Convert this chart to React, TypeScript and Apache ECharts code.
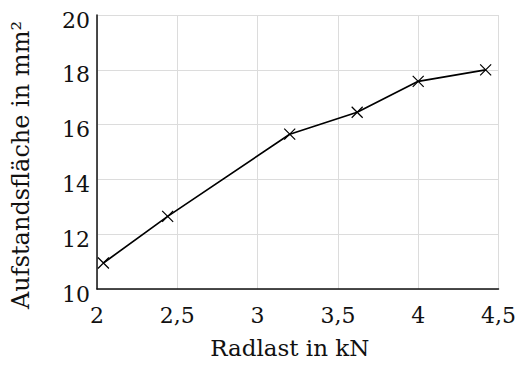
import React, { useEffect, useRef } from "react";
import * as echarts from "echarts";

const radlast = [2.04, 2.44, 3.2, 3.62, 4.0, 4.42];
const flaeche = [10.95, 12.65, 15.65, 16.45, 17.58, 18.0];
const xTitle = "Radlast in kN";
const yTitle = "Aufstandsfläche in mm²";

const FONT = "DejaVu Serif";

export default function App() {
  const ref = useRef<HTMLDivElement>(null);
  useEffect(() => {
    if (!ref.current) return;
    const chart = echarts.init(ref.current, undefined, { renderer: "svg" });
    chart.setOption({
      animation: false,
      backgroundColor: "#ffffff",
      textStyle: { fontFamily: FONT },
      grid: { left: 97, right: 16, top: 15, bottom: 76 },
      xAxis: {
        type: "value",
        min: 2,
        max: 4.5,
        interval: 0.5,
        name: xTitle,
        nameLocation: "middle",
        nameGap: 47,
        nameTextStyle: { fontFamily: FONT, fontSize: 23, color: "#111", padding: [0, 16, 0, 0] },
        axisLine: { show: true, lineStyle: { color: "#111", width: 1.5 } },
        axisTick: { show: false },
        splitLine: { show: true, lineStyle: { color: "#dcdcdc", width: 1 } },
        axisLabel: {
          fontFamily: FONT,
          fontSize: 22,
          color: "#111",
          margin: 15,
          formatter: (v: number) => String(v).replace(".", ","),
        },
      },
      yAxis: {
        type: "value",
        min: 10,
        max: 20,
        interval: 2,
        name: yTitle,
        nameLocation: "middle",
        nameGap: 64,
        nameTextStyle: { fontFamily: FONT, fontSize: 24, color: "#111", padding: [0, 26, 0, 0] },
        axisLine: { show: true, lineStyle: { color: "#111", width: 1.5 } },
        axisTick: { show: false },
        splitLine: { show: true, lineStyle: { color: "#dcdcdc", width: 1 } },
        axisLabel: {
          fontFamily: FONT,
          fontSize: 22,
          color: "#111",
          margin: 7,
          verticalAlign: "top",
          lineHeight: 10,
        },
      },
      series: [
        {
          type: "line",
          data: radlast.map((x, i) => [x, flaeche[i]]),
          lineStyle: { color: "#000", width: 1.7 },
          symbol: "path://M0,0L10,10M10,0L0,10",
          symbolSize: 11,
          itemStyle: { color: "none", borderColor: "#000", borderWidth: 1.2 },
        },
      ],
    });
    return () => chart.dispose();
  }, []);
  return <div ref={ref} style={{ width: 519, height: 365, position: "absolute", left: 0, top: 0 }} />;
}
